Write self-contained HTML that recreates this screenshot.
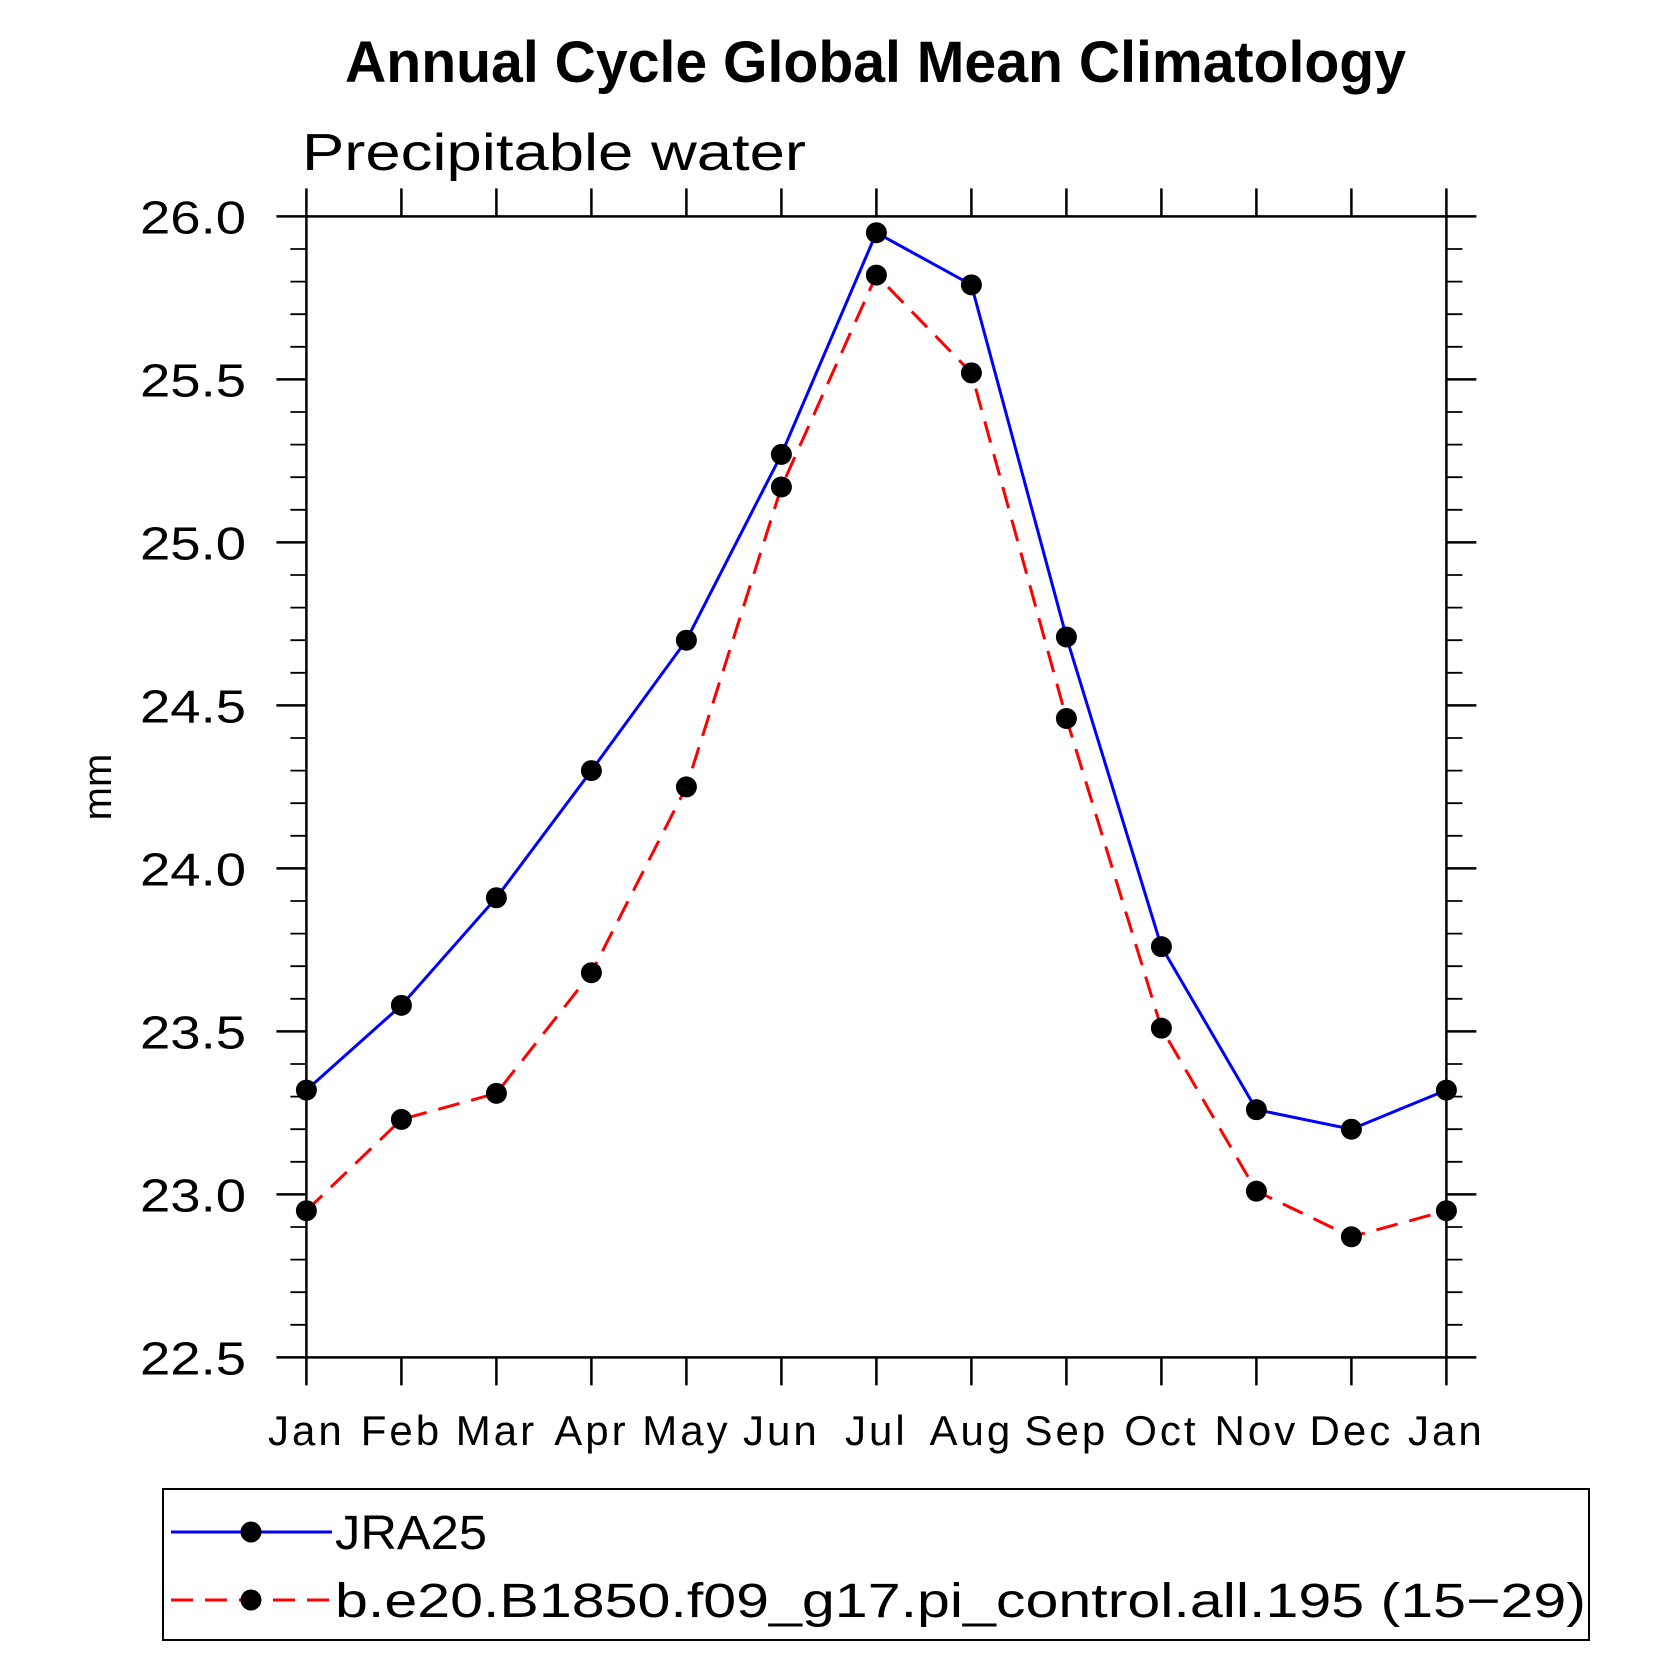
<!DOCTYPE html>
<html><head><meta charset="utf-8"><style>
html,body{margin:0;padding:0;background:#fff;}
svg{display:block;}
text{font-family:"Liberation Sans","DejaVu Sans",sans-serif;}
</style></head><body>
<svg id="chart" width="1680" height="1680" viewBox="0 0 1680 1680">
<text x="345" y="82" font-size="58" font-weight="bold" textLength="1061" lengthAdjust="spacingAndGlyphs">Annual Cycle Global Mean Climatology</text>
<text x="302" y="170" font-size="52" font-weight="300" textLength="504" lengthAdjust="spacingAndGlyphs">Precipitable water</text>
<text transform="translate(111,787) rotate(-90)" text-anchor="middle" font-size="40">mm</text>
<g id="axes"></g>
<g id="series"></g>
<rect x="163" y="1489" width="1426" height="151" fill="none" stroke="#000" stroke-width="2"/>
<g>
<line x1="171" y1="1532" x2="332" y2="1532" stroke="#0000ff" stroke-width="3"/>
<circle cx="251" cy="1532" r="10.5" fill="#000"/>
<text x="335" y="1549" font-size="48" textLength="152" lengthAdjust="spacingAndGlyphs">JRA25</text>
</g>
<g>
<line x1="171" y1="1600" x2="332" y2="1600" stroke="#ff0000" stroke-width="3" stroke-dasharray="22,12"/>
<circle cx="251" cy="1600" r="10.5" fill="#000"/>
<text x="335" y="1617" font-size="48" textLength="1251" lengthAdjust="spacingAndGlyphs">b.e20.B1850.f09_g17.pi_control.all.195 (15−29)</text>
</g>
</svg>
<script>
const months = ["Jan","Feb","Mar","Apr","May","Jun","Jul","Aug","Sep","Oct","Nov","Dec","Jan"];
const jra25 = [23.32,23.58,23.91,24.30,24.70,25.27,25.95,25.79,24.71,23.76,23.26,23.20,23.32];
const model = [22.95,23.23,23.31,23.68,24.25,25.17,25.82,25.52,24.46,23.51,23.01,22.87,22.95];
const yTicks = [22.5,23.0,23.5,24.0,24.5,25.0,25.5,26.0];
const yTickLabels = ["22.5","23.0","23.5","24.0","24.5","25.0","25.5","26.0"];

const L=306.4,R=1446.4,T=216.4,B=1357.4,ymin=22.5,ymax=26.0;
const xs=i=>L+(R-L)*i/(months.length-1);
const ys=v=>B-(v-ymin)/(ymax-ymin)*(B-T);
const NS="http://www.w3.org/2000/svg";
const axes=document.getElementById('axes'), series=document.getElementById('series');
function mk(tag,attrs,parent){const e=document.createElementNS(NS,tag);for(const k in attrs)e.setAttribute(k,attrs[k]);parent.appendChild(e);return e;}

const frame=mk('rect',{x:L,y:T,width:R-L,height:B-T,fill:'none',stroke:'#000','stroke-width':2.5},axes);



months.forEach((m,i)=>{
  const x=xs(i);
  const t1=mk('line',{x1:x,y1:B,x2:x,y2:B+28,stroke:'#000','stroke-width':2.5},axes);
  
  
  const t2=mk('line',{x1:x,y1:T,x2:x,y2:T-28,stroke:'#000','stroke-width':2.5},axes);
  
  
  const lb=mk('text',{x:x,y:1445,'text-anchor':'middle','font-size':42,'letter-spacing':3},axes);
  lb.textContent=m;
  
  
});
for(let k=0;k<=35;k++){
  const v=ymin+k*0.1, y=ys(v), major=(k%5===0);
  const len=major?30:16;
  const a=mk('line',{x1:L,y1:y,x2:L-len,y2:y,stroke:'#000','stroke-width':major?2.5:1.8},axes);
  
  
  const b=mk('line',{x1:R,y1:y,x2:R+len,y2:y,stroke:'#000','stroke-width':major?2.5:1.8},axes);
  
  
}
yTicks.forEach((v,i)=>{
  const t=mk('text',{x:140,y:ys(v)+17,'font-size':46,textLength:106,lengthAdjust:'spacingAndGlyphs'},axes);
  t.textContent=yTickLabels[i];
  
  
});
function draw(data,color,dash,name){
  const pts=data.map((v,i)=>xs(i)+','+ys(v)).join(' ');
  const pl=mk('polyline',{points:pts,fill:'none',stroke:color,'stroke-width':3,'stroke-dasharray':dash},series);
  
  
  data.forEach((v,i)=>{
    const c=mk('circle',{cx:xs(i),cy:ys(v),r:10.5,fill:'#000'},series);
    
    
  });
}
draw(jra25,'#0000ff','none','jra25');
draw(model,'#ff0000','22,12','model');
</script>
</body></html>
